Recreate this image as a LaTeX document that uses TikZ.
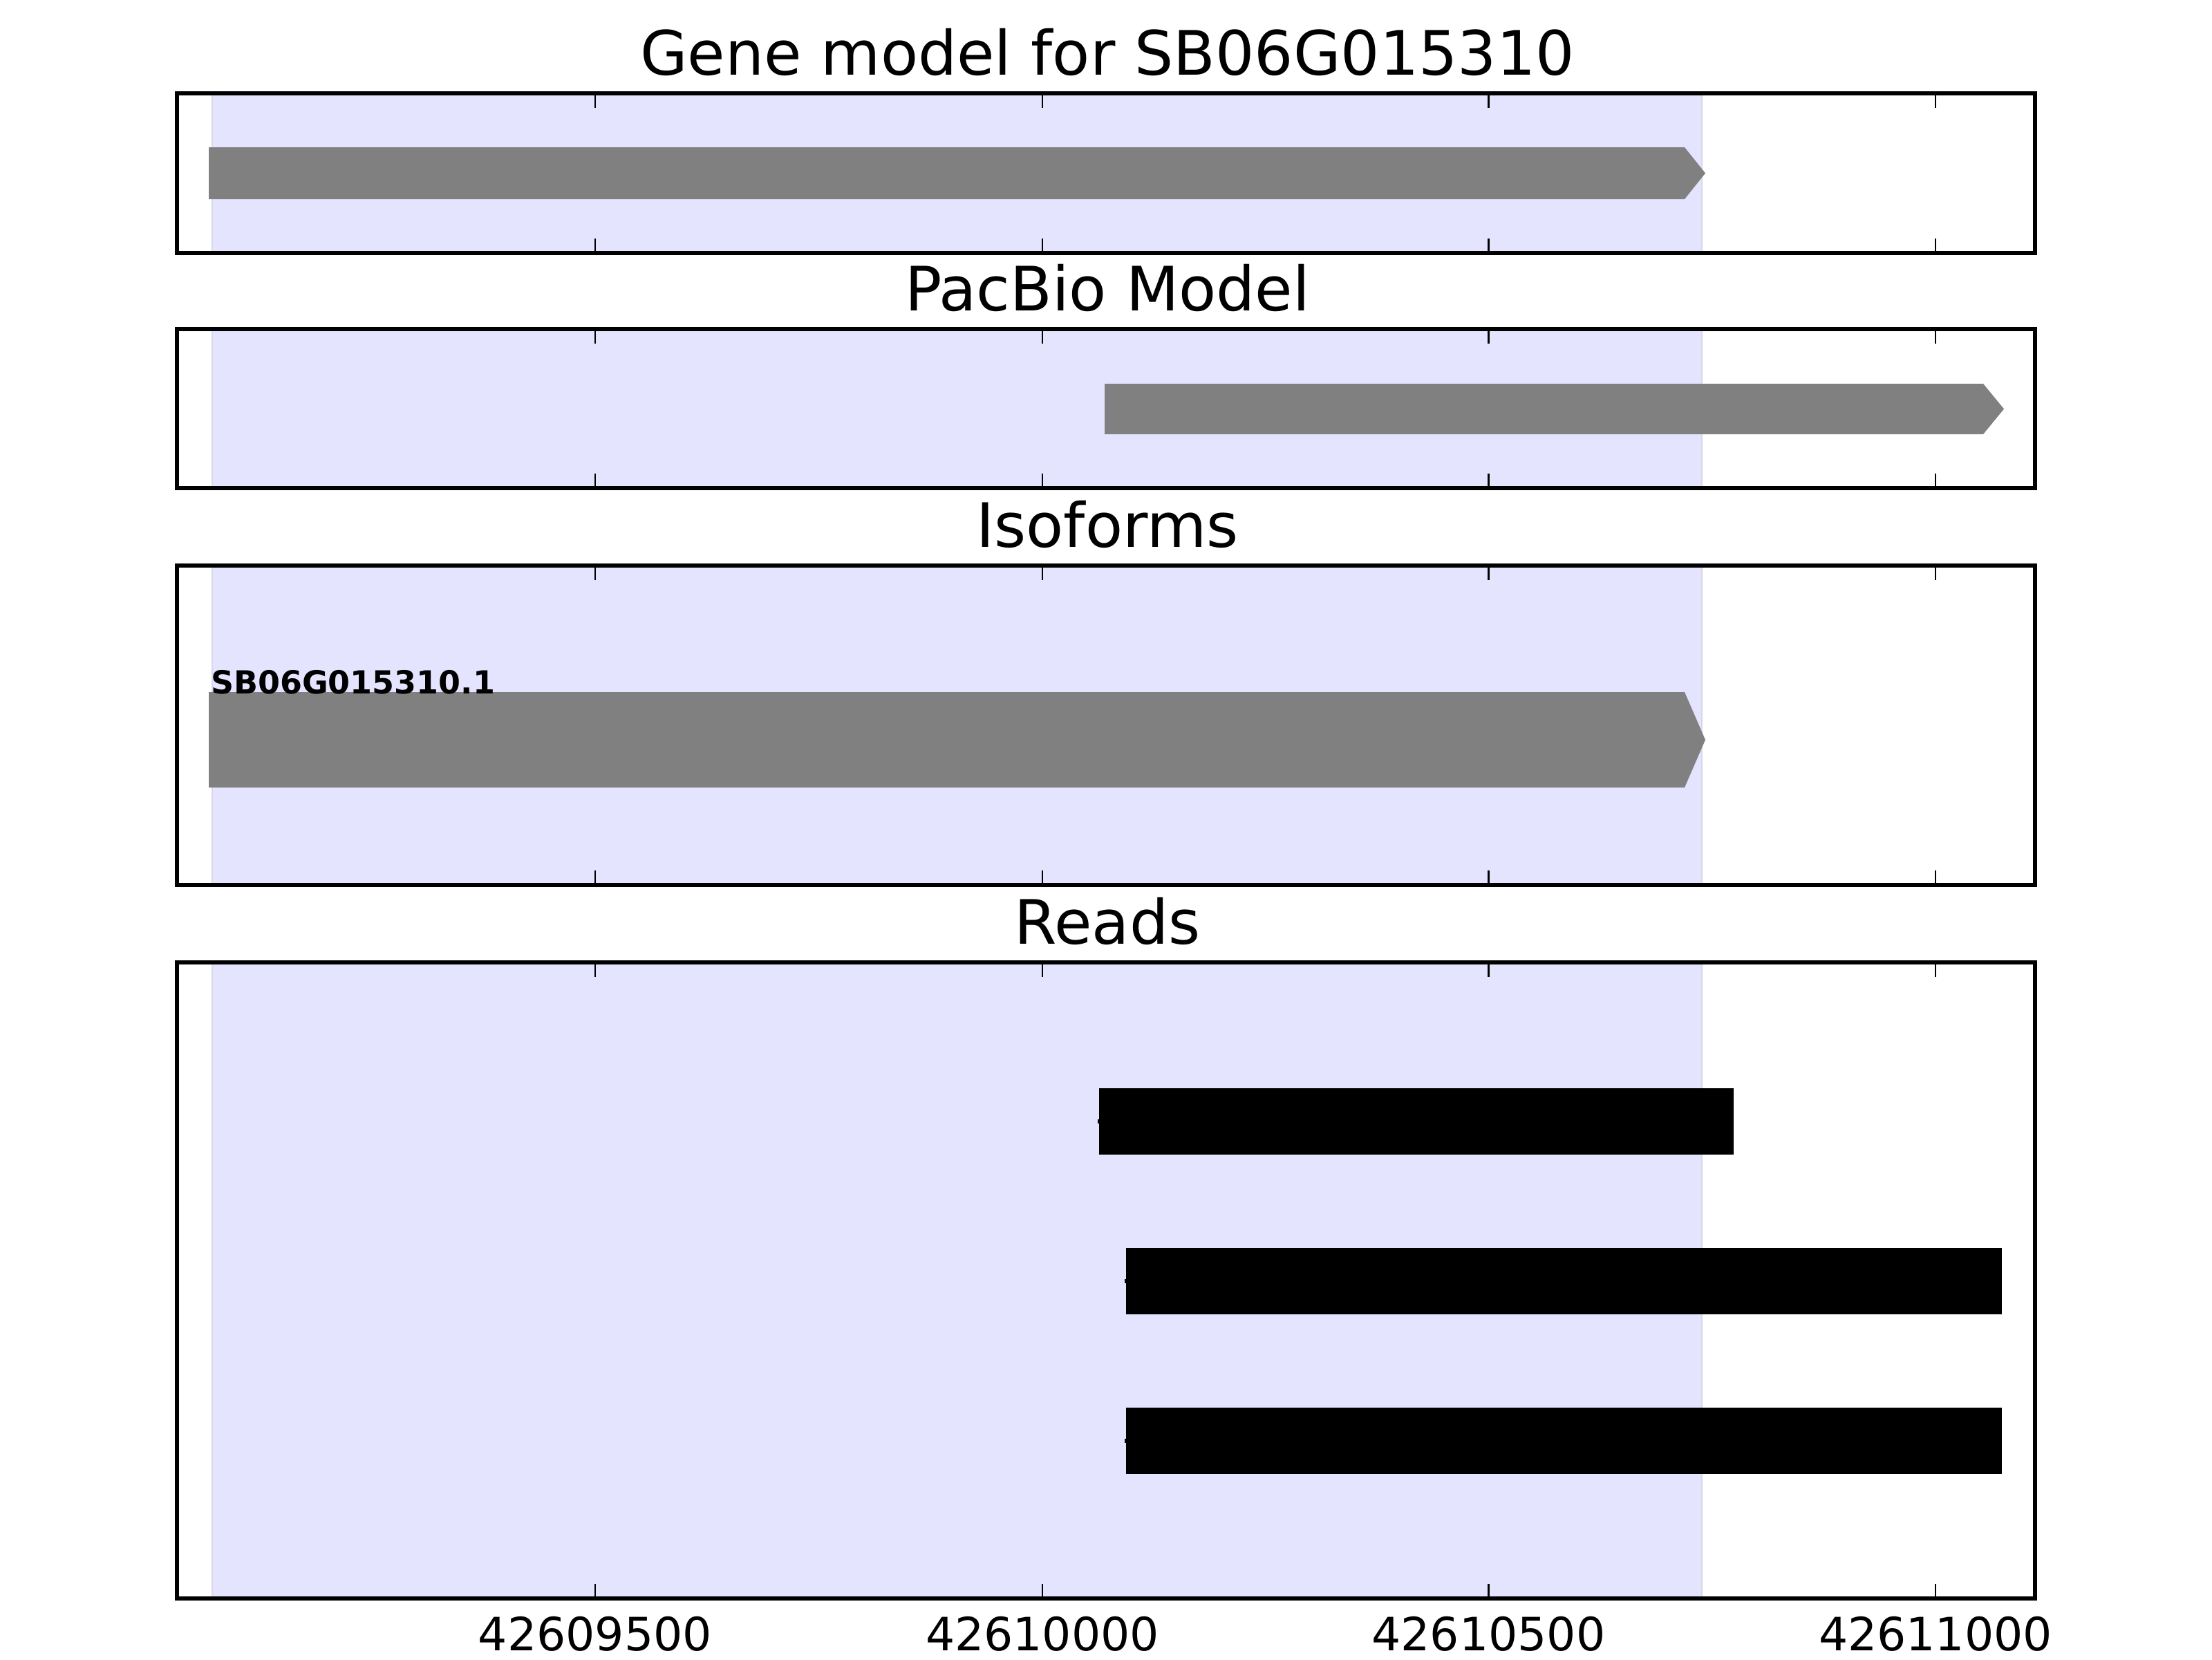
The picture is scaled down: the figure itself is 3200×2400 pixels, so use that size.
\documentclass[tikz,border=0pt]{standalone}
\usepackage{fontspec}
\setmainfont{DejaVu Sans}
\definecolor{spanblue}{RGB}{228,228,255}
\definecolor{spanedge}{RGB}{216,216,236}
\definecolor{barfill}{RGB}{128,128,128}
\begin{document}
\begin{tikzpicture}[x=0.180675pt,y=-0.180675pt,
 frame/.style={draw=black,line width=1pt},
 tickmark/.style={draw=black,line width=0.5pt},
 spanbox/.style={fill=spanblue,draw=spanedge,line width=0.4pt},
 genebar/.style={fill=barfill},
 readbar/.style={fill=black},
 paneltitle/.style={font=\fontsize{16}{19}\selectfont,anchor=base,inner sep=0pt},
 ticklabel/.style={font=\fontsize{12}{14}\selectfont,anchor=base,inner sep=0pt},
 isolabel/.style={font=\fontsize{8.3}{10}\selectfont\bfseries,anchor=base west,inner sep=0pt}]
\useasboundingbox[fill=white] (0,0) rectangle (3200,2400);

% shaded spans
\foreach \t/\b in {135/366,476/706,818/1280,1392/2312}{
  \filldraw[spanbox] (307,\t) rectangle (2462,\b);
}

% gene model bar
\fill[genebar] (302,213) -- (2437,213) -- (2467,250.5) -- (2437,288) -- (302,288) -- cycle;
% pacbio model bar
\fill[genebar] (1598,555) -- (2869,555) -- (2899,591.5) -- (2869,628) -- (1598,628) -- cycle;
% isoform bar
\fill[genebar] (302,1001) -- (2437,1001) -- (2467,1070) -- (2437,1139) -- (302,1139) -- cycle;
\node[isolabel] (iso) at (304,1003) {SB06G015310.1};

% reads
\fill[readbar] (1590,1574) rectangle (2508,1670);
\fill[readbar] (1588,1619) rectangle (1591,1625);
\fill[readbar] (1629,1805) rectangle (2896,1901);
\fill[readbar] (1627,1850) rectangle (1630,1856);
\fill[readbar] (1629,2036) rectangle (2896,2132);
\fill[readbar] (1627,2081) rectangle (1630,2087);

% ticks, frames, titles
\foreach \t/\b/\lab [count=\i] in {135/366/{Gene model for SB06G015310},476/706/{PacBio Model},818/1280/{Isoforms},1392/2312/{Reads}}{
  \foreach \x in {861,1508,2153.5,2800}{
    \draw[tickmark] (\x,\t) -- ++(0,21);
    \draw[tickmark] (\x,\b) -- ++(0,-21);
  }
  \draw[frame] (256,\t) rectangle (2944,\b);
  \node[paneltitle] (title\i) at (1602,{\t-27}) {\lab};
}

% tick labels
\node[ticklabel] (tl1) at (861,2387) {42609500};
\node[ticklabel] (tl2) at (1508,2387) {42610000};
\node[ticklabel] (tl3) at (2153.5,2387) {42610500};
\node[ticklabel] (tl4) at (2800,2387) {42611000};
\end{tikzpicture}
\end{document}
